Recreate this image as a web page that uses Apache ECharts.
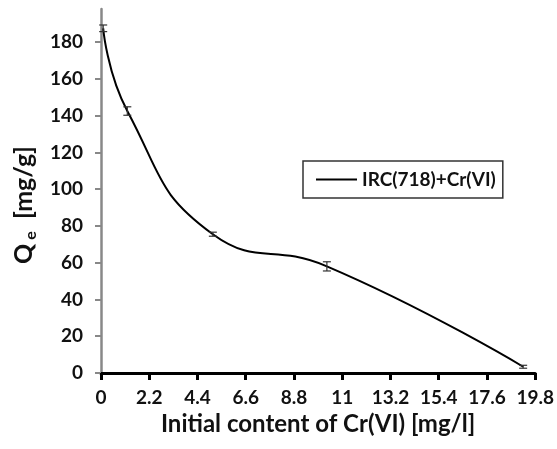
<!DOCTYPE html>
<html>
<head>
<meta charset="utf-8">
<script src="https://cdn.jsdelivr.net/npm/echarts@6/dist/echarts.min.js"></script>
<style>
  html, body { margin: 0; padding: 0; background: #fff; }
  #main { width: 557px; height: 449px; }
</style>
</head>
<body>
<div id="main"></div>
<script>
// data
let conc = [0.1, 1.2, 5.1, 10.3, 19.25]
let qe = [187.5, 142.5, 75.5, 58, 3.4]
let qeErr = [1.8, 2.3, 1.1, 2.5, 0.8]
let xTicks = [0, 2.2, 4.4, 6.6, 8.8, 11, 13.2, 15.4, 17.6, 19.8]
let yTicks = [0, 20, 40, 60, 80, 100, 120, 140, 160, 180]
let seriesName = "IRC(718)+Cr(VI)"

let font = "Lato"
let ink = "#111"

let lineData = conc.map((x, i) => [x, qe[i]])
let errData = conc.map((x, i) => [x, qe[i] - qeErr[i], qe[i] + qeErr[i]])

var myChart = echarts.init(document.getElementById('main'))

// error bars: vertical stroke + caps
function renderErr(params, api) {
    let lo = api.coord([api.value(0), api.value(1)])
    let hi = api.coord([api.value(0), api.value(2)])
    let w = 4
    let style = { stroke: '#333', lineWidth: 1.2 }
    return {
        type: 'group',
        children: [
            { type: 'line', shape: { x1: lo[0], y1: lo[1], x2: hi[0], y2: hi[1] }, style: style },
            { type: 'line', shape: { x1: lo[0] - w, y1: lo[1], x2: lo[0] + w, y2: lo[1] }, style: style },
            { type: 'line', shape: { x1: hi[0] - w, y1: hi[1], x2: hi[0] + w, y2: hi[1] }, style: style }
        ]
    }
}

var option = {
    animation: false,
    backgroundColor: '#fff',
    textStyle: { fontFamily: font },
    grid: { left: 101, right: 20, top: 9, bottom: 76 },
    legend: {
        data: [seriesName],
        left: 303,
        top: 161,
        padding: [9, 7, 9, 13],
        borderColor: '#333',
        borderWidth: 1.5,
        icon: 'rect',
        itemWidth: 41,
        itemHeight: 2,
        itemGap: 5,
        textStyle: { fontFamily: font, fontWeight: 'bold', fontSize: 19, color: ink }
    },
    xAxis: {
        type: 'value',
        min: 0,
        max: 19.8,
        interval: 2.2,
        name: 'Initial content of Cr(VI) [mg/l]',
        nameLocation: 'middle',
        nameGap: 35,
        nameTextStyle: { fontFamily: font, fontWeight: 'bold', fontSize: 24, color: ink },
        splitLine: { show: false },
        axisLine: { lineStyle: { color: '#000', width: 3 } },
        axisTick: { length: 7, lineStyle: { color: '#000', width: 3 }, customValues: xTicks },
        axisLabel: {
            customValues: xTicks,
            margin: 15,
            fontFamily: font, fontWeight: 'bold', fontSize: 19, color: ink,
            formatter: v => String(+v.toFixed(1))
        }
    },
    yAxis: {
        type: 'value',
        min: 0,
        max: 198,
        interval: 20,
        name: '{q|Q}{e|e}{n|  [mg/g]}',
        nameLocation: 'middle',
        nameRotate: 90,
        nameGap: 54,
        nameTextStyle: {
            fontFamily: font, fontWeight: 'bold', color: ink,
            rich: {
                q: { fontFamily: font, fontWeight: 'bold', fontSize: 25, color: ink, verticalAlign: 'top', lineHeight: 28 },
                e: { fontFamily: font, fontWeight: 'bold', fontSize: 16, color: ink, verticalAlign: 'bottom', lineHeight: 16, padding: [0, 0, 0, 4] },
                n: { fontFamily: font, fontWeight: 'bold', fontSize: 25, color: ink, verticalAlign: 'top', lineHeight: 28, padding: [0, 28, 0, 0] }
            }
        },
        splitLine: { show: false },
        axisLine: { show: true, lineStyle: { color: '#888', width: 2.5 } },
        axisTick: { show: true, length: 6, lineStyle: { color: '#888', width: 2 }, customValues: yTicks },
        axisLabel: {
            customValues: yTicks,
            margin: 18,
            fontFamily: font, fontWeight: 'bold', fontSize: 19, color: ink
        }
    },
    series: [
        {
            name: seriesName,
            type: 'line',
            data: lineData,
            smooth: 0.5,
            showSymbol: false,
            symbol: 'none',
            lineStyle: { color: '#000', width: 2 },
            itemStyle: { color: '#000' },
            z: 3
        },
        {
            name: 'err',
            type: 'custom',
            data: errData,
            renderItem: renderErr,
            encode: { x: 0, y: [1, 2] },
            z: 4
        }
    ]
}

myChart.setOption(option)
</script>
</body>
</html>
